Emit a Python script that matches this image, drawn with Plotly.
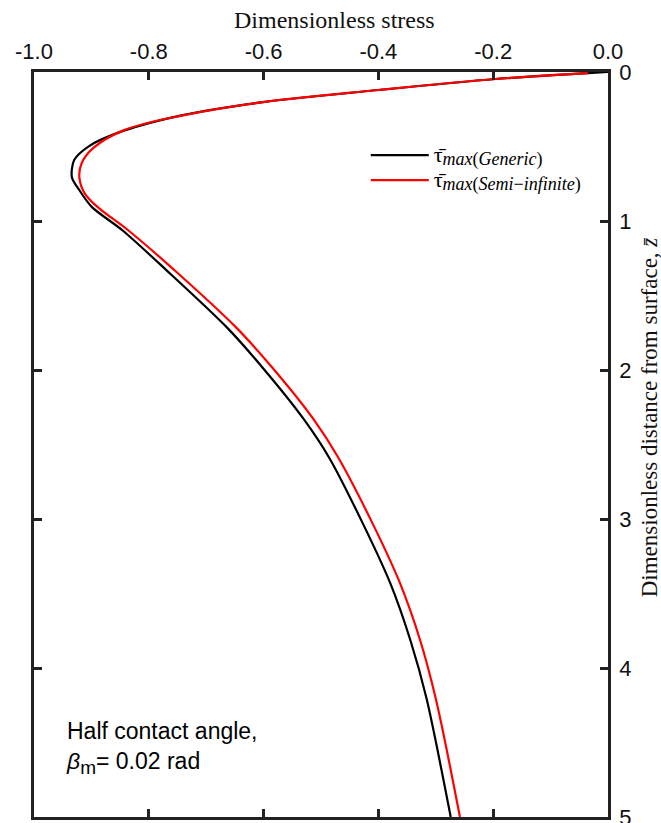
import plotly.graph_objects as go

# Dimensionless depth z (y) and stress (x)
z_generic = [0.0, 0.007, 0.047, 0.121, 0.202, 0.289, 0.397, 0.497, 0.591, 0.706, 0.793,
             0.907, 1.062, 1.331, 1.714, 1.983, 2.325, 2.587, 3.031, 3.434, 3.817, 4.207, 5.0]
s_generic = [0.0, -0.035, -0.196, -0.400, -0.601, -0.741, -0.846, -0.904, -0.930, -0.934, -0.921,
             -0.899, -0.846, -0.769, -0.664, -0.602, -0.531, -0.486, -0.427, -0.379, -0.344, -0.316, -0.274]

z_semi = [0.007, 0.047, 0.121, 0.202, 0.289, 0.390, 0.511, 0.612, 0.706, 0.813,
          0.907, 1.062, 1.331, 1.714, 1.983, 2.325, 2.587, 3.031, 3.434, 3.817, 4.207, 5.0]
s_semi = [-0.035, -0.196, -0.400, -0.601, -0.738, -0.843, -0.897, -0.917, -0.921, -0.912,
          -0.889, -0.836, -0.755, -0.648, -0.585, -0.514, -0.470, -0.410, -0.362, -0.327, -0.300, -0.258]

x_ticks = [-1.0, -0.8, -0.6, -0.4, -0.2, 0.0]
x_ticktext = ["-1.0", "-0.8", "-0.6", "-0.4", "-0.2", "0.0"]
y_ticks = [0, 1, 2, 3, 4, 5]
y_ticktext = ["0", "1", "2", "3", "4", "5"]

serif = "Liberation Serif, Times New Roman"
sans = "Liberation Sans, Arial"


def legend_name(sub_html):
    return ('<span style="font-size:22px">τ̄</span>'
            '<sub><span style="font-size:18px">' + sub_html + '</span></sub>')


fig = go.Figure()
fig.add_trace(go.Scatter(
    x=s_generic, y=z_generic, mode="lines", line_shape="spline",
    line=dict(color="black", width=2.2, smoothing=0.8),
    name=legend_name("<i>max</i>(<i>Generic</i>)")))
fig.add_trace(go.Scatter(
    x=s_semi, y=z_semi, mode="lines", line_shape="spline",
    line=dict(color="#ff0000", width=2.2, smoothing=1.0),
    name=legend_name("<i>max</i>(<i>Semi</i>−<i>infinite</i>)")))

axis_common = dict(
    showline=True, linecolor="#222222", linewidth=2.5, mirror="allticks",
    ticks="inside", ticklen=8, tickwidth=2.5, tickcolor="#222222",
    showgrid=False, zeroline=False, ticklabeloverflow="allow", automargin=False,
    tickfont=dict(family=sans, size=22, color="#111111"),
)

fig.update_layout(
    width=661, height=823,
    margin=dict(l=34, r=53, t=72, b=6, autoexpand=False),
    paper_bgcolor="white", plot_bgcolor="white",
    xaxis=dict(
        side="top", range=[-1.0, 0.0], tickvals=x_ticks, ticktext=x_ticktext,
        ticklabelstandoff=1,
        **axis_common),
    yaxis=dict(
        side="right", range=[5, 0], tickvals=y_ticks, ticktext=y_ticktext,
        ticklabelstandoff=4,
        **axis_common),
    legend=dict(
        x=0.578, y=0.912, xanchor="left", yanchor="top",
        bgcolor="rgba(255,255,255,0)", borderwidth=0, itemwidth=58,
        font=dict(family=serif, size=17, color="black"),
        tracegroupgap=0,
    ),
    showlegend=True,
    annotations=[
        dict(x=0.523, y=1.0698, xref="paper", yref="paper", xanchor="center", yanchor="middle",
             text="Dimensionless stress", showarrow=False,
             font=dict(family=serif, size=24, color="#111111")),
        dict(x=1.0725, y=0.536, xref="paper", yref="paper", xanchor="center", yanchor="middle",
             text="Dimensionless distance from surface, <i>z̄</i>", showarrow=False, textangle=-90,
             font=dict(family=serif, size=23, color="#111111")),
        dict(x=0.052, y=0.135, xref="paper", yref="paper", xanchor="left", yanchor="top",
             text='Half contact angle,<br><i>β</i><sub><span style="font-size:19px">m</span></sub>= 0.02 rad',
             showarrow=False, align="left",
             font=dict(family=sans, size=23, color="black")),
    ],
)

fig.write_html("out.html", config={"displayModeBar": False},
               post_script="document.body.style.margin='0';document.body.style.padding='0';")
